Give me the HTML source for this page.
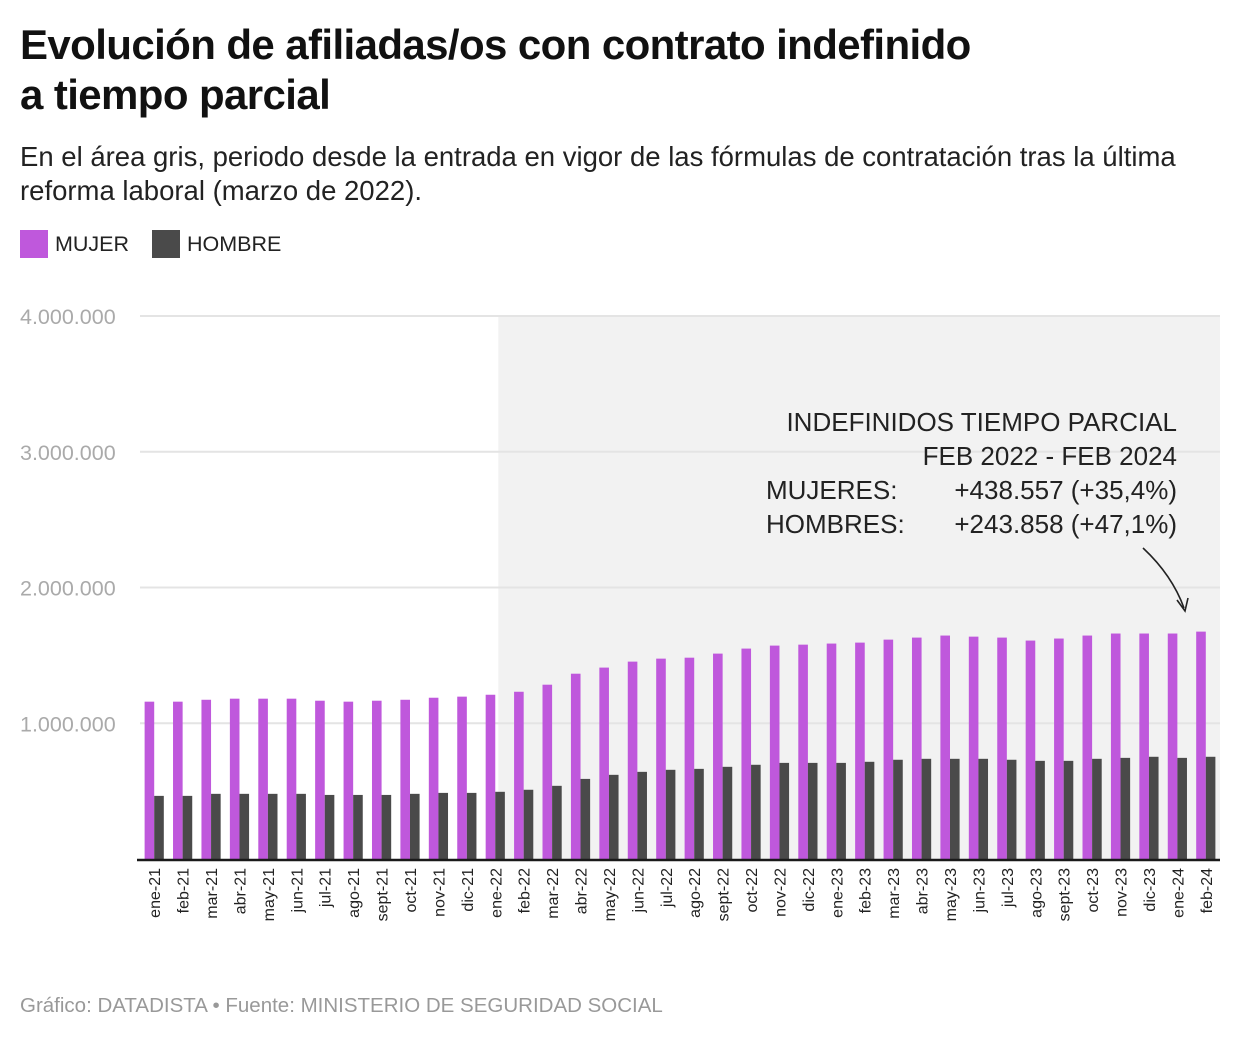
<!DOCTYPE html>
<html><head><meta charset="utf-8"><style>
body{margin:0;background:#fff;font-family:"Liberation Sans",Arial,sans-serif;}
#wrap{position:relative;width:1240px;height:1040px;overflow:hidden}
h1{position:absolute;left:20px;top:20px;margin:0;font-size:42px;line-height:50px;font-weight:bold;color:#111;letter-spacing:-0.6px}
.sub{position:absolute;left:20px;top:140px;font-size:27.5px;line-height:34px;color:#222;width:1200px}
.leg{position:absolute;top:230px;font-size:21.5px;color:#222;display:flex;align-items:center}
.sw{width:28px;height:28px;display:inline-block;margin-right:7px}
.foot{position:absolute;left:20px;top:994px;font-size:20.5px;color:#999}
</style></head><body>
<div id="wrap">
<h1>Evolución de afiliadas/os con contrato indefinido<br>a tiempo parcial</h1>
<div class="sub">En el área gris, periodo desde la entrada en vigor de las fórmulas de contratación tras la última reforma laboral (marzo de 2022).</div>
<div class="leg" style="left:20px"><span class="sw" style="background:#bf58dc"></span>MUJER</div>
<div class="leg" style="left:152px"><span class="sw" style="background:#4a4a4a"></span>HOMBRE</div>
<svg id="chart" width="1240" height="1040" style="position:absolute;left:0;top:0"></svg>
<div class="foot">Gráfico: DATADISTA • Fuente: MINISTERIO DE SEGURIDAD SOCIAL</div>
</div>
<script>
const months=["ene-21","feb-21","mar-21","abr-21","may-21","jun-21","jul-21","ago-21","sept-21","oct-21","nov-21","dic-21","ene-22","feb-22","mar-22","abr-22","may-22","jun-22","jul-22","ago-22","sept-22","oct-22","nov-22","dic-22","ene-23","feb-23","mar-23","abr-23","may-23","jun-23","jul-23","ago-23","sept-23","oct-23","nov-23","dic-23","ene-24","feb-24"];
const mujer=[1159,1159,1173,1181,1181,1181,1166,1159,1166,1173,1188,1196,1210,1232,1284,1365,1410,1454,1476,1483,1513,1550,1572,1579,1587,1594,1616,1631,1646,1638,1631,1609,1624,1646,1661,1661,1661,1675];
const hombre=[465,465,480,480,480,480,472,472,472,480,487,487,495,510,539,590,620,642,657,664,679,694,708,708,708,716,731,738,738,738,731,723,723,738,745,753,745,753];
const yTicks=[1000,2000,3000,4000];
const yTickLabels=["1.000.000","2.000.000","3.000.000","4.000.000"];
const shadeStart="ene-22";
const NS="http://www.w3.org/2000/svg";
const svg=document.getElementById('chart');
const X0=140,X1=1220,Y0=859,Y4=316;
const band=(X1-X0)/months.length;
const y=v=>Y0-(v/4000)*(Y0-Y4);
const x=i=>X0+i*band;
function mk(t,a){const e=document.createElementNS(NS,t);for(const k in a)e.setAttribute(k,a[k]);svg.appendChild(e);return e;}
const si=months.indexOf(shadeStart);
let r=mk('rect',{x:x(si)+band/2+3,y:Y4,width:X1-(x(si)+band/2+3),height:Y0-Y4,fill:'#f2f2f2'});


yTicks.forEach((t,i)=>{
 let l=mk('line',{x1:X0,x2:X1,y1:y(t),y2:y(t),stroke:'#e4e4e4','stroke-width':2});
 
 
 let tx=mk('text',{x:20,y:y(t)+8,'font-size':21.5,fill:'#aaa'});tx.textContent=yTickLabels[i];
 
 
});
const bw=9.6;
months.forEach((m,i)=>{
 const c=x(i)+band/2;
 let a=mk('rect',{x:c-bw,y:y(mujer[i]),width:bw,height:Y0-y(mujer[i]),fill:'#bf58dc'});
 
 
 let b=mk('rect',{x:c,y:y(hombre[i]),width:bw,height:Y0-y(hombre[i]),fill:'#4a4a4a'});
 
 
 let t=mk('text',{x:0,y:0,'font-size':16,fill:'#222','text-anchor':'end',transform:`translate(${c+6},868) rotate(-90)`});t.textContent=m;
 
 
});
let ax=mk('line',{x1:137,x2:X1,y1:Y0+1,y2:Y0+1,stroke:'#1a1a1a','stroke-width':2.5});


const ann=[["INDEFINIDOS TIEMPO PARCIAL",null,431],["FEB 2022 - FEB 2024",null,465],["+438.557 (+35,4%)","MUJERES:",499],["+243.858 (+47,1%)","HOMBRES:",533]];
ann.forEach(a=>{
 let t=mk('text',{x:1177,y:a[2],'font-size':26,fill:'#222','text-anchor':'end'});t.textContent=a[0];
 
 
 if(a[1]){let l=mk('text',{x:766,y:a[2],'font-size':26,fill:'#222'});l.textContent=a[1];
 
 }
});
let p=mk('path',{d:'M1143 548 Q1172 575 1184 608',fill:'none',stroke:'#222','stroke-width':1.6});


let h=mk('path',{d:'M1177 600 L1185 611 L1188 598',fill:'none',stroke:'#222','stroke-width':1.6});


</script>
</body></html>
